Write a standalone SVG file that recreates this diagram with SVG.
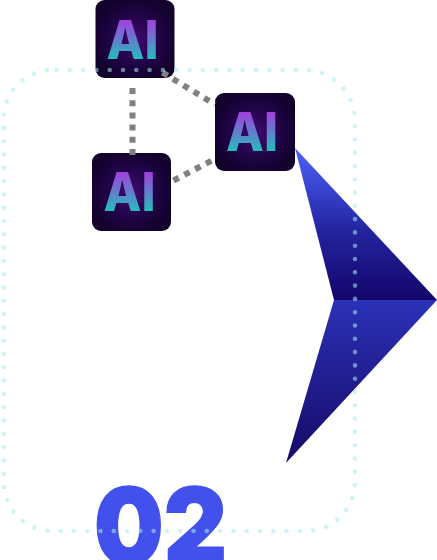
<svg xmlns="http://www.w3.org/2000/svg" width="437" height="560" viewBox="0 0 437 560">
<defs>
<radialGradient id="bg" cx="50%" cy="50%" r="55%"><stop offset="0" stop-color="#3f0a70"/><stop offset="0.6" stop-color="#1f0445"/><stop offset="1" stop-color="#12022c"/></radialGradient>
<linearGradient id="ai" x1="0" y1="0" x2="0" y2="1"><stop offset="0.2" stop-color="#a23fdc"/><stop offset="0.8" stop-color="#25bcbd"/></linearGradient>
<linearGradient id="up" gradientUnits="userSpaceOnUse" x1="0" y1="148" x2="0" y2="300"><stop offset="0" stop-color="#4d62fb"/><stop offset="0.55" stop-color="#23239e"/><stop offset="1" stop-color="#14056a"/></linearGradient>
<linearGradient id="dn" gradientUnits="userSpaceOnUse" x1="0" y1="300" x2="0" y2="463"><stop offset="0" stop-color="#2b30b6"/><stop offset="1" stop-color="#170a68"/></linearGradient>
</defs>
<style>
.tile{fill:url(#bg)}
.ai{font-family:"Inter","Liberation Sans",sans-serif;font-weight:800;font-size:53px;fill:url(#ai);text-anchor:middle}
.link{stroke:#808080;stroke-width:6;stroke-dasharray:6 6.200;fill:none}
.dots{fill:none;stroke:#a8ebf3;stroke-opacity:.55;stroke-width:4.600;stroke-linecap:round;stroke-dasharray:0 13.300}
.num{font-family:"Inter","Liberation Sans",sans-serif;font-weight:900;font-size:106px;fill:#4351ec;stroke:#4351ec;stroke-width:1.500}
</style>
<g id="arrow"><polygon points="295,148 437,300 334,300" fill="url(#up)"/><polygon points="334,300 437,300 286,463" fill="url(#dn)"/></g>
<text id="number" class="num" x="94" y="563.500" textLength="133" lengthAdjust="spacingAndGlyphs">02</text>
<g id="node-top"><rect class="tile" x="95.500" y="0" width="79" height="78" rx="9"/><text class="ai" x="132.500" y="58.500" textLength="52" lengthAdjust="spacingAndGlyphs">AI</text></g>
<g id="node-right"><rect class="tile" x="215" y="93" width="80" height="78" rx="9"/><text class="ai" x="252" y="150.500" textLength="52" lengthAdjust="spacingAndGlyphs">AI</text></g>
<g id="node-left"><rect class="tile" x="92" y="153" width="79" height="78" rx="9"/><text class="ai" x="129.500" y="210.500" textLength="52" lengthAdjust="spacingAndGlyphs">AI</text></g>
<g id="connectors">
<line class="link" x1="132.500" y1="88" x2="132.500" y2="155"/>
<line class="link" x1="162.500" y1="72.500" x2="215" y2="104.500"/>
<line class="link" x1="173.500" y1="180.500" x2="215" y2="159"/>
</g>
<path id="frame" class="dots" d="M56.500 70H304A51 51 0 0 1 355 121V482A49 49 0 0 1 306 531H52A48 48 0 0 1 4 483V118A48 48 0 0 1 52 70Z"/>
</svg>
